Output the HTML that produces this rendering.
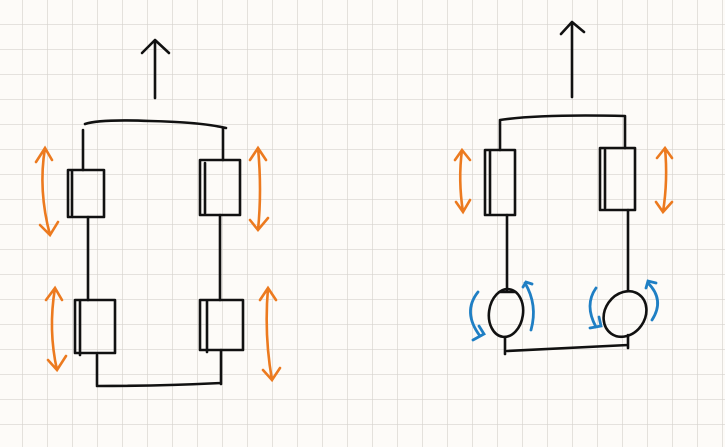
<!DOCTYPE html>
<html><head><style>
html,body{margin:0;padding:0;width:725px;height:447px;overflow:hidden;background:#fdfbf8}
</style></head><body>
<svg width="725" height="447" xmlns="http://www.w3.org/2000/svg">
<defs>
<pattern id="g" x="-2" y="0" width="25" height="25" patternUnits="userSpaceOnUse">
<path d="M25 0V25M0 25H25" stroke="#d6d3ce" stroke-width="1.3" fill="none"/>
</pattern>
</defs>
<rect width="725" height="447" fill="url(#g)"/>
<g stroke="#111" stroke-width="2.6" fill="none" stroke-linecap="round" stroke-linejoin="round">
<path d="M155 98V41M142 53L155 40L169 53"/>
<path d="M85 124Q100 119 150 121Q200 122 226 128"/>
<path d="M83 130V170M223 128V160"/>
<path d="M68 170H104V217H68ZM72 170V215"/>
<path d="M88 217V300M220 215V300"/>
<path d="M200 160H240V215H200ZM205 163V213"/>
<path d="M75 300H115V353H75ZM80 300V355M97 355V385M97 386Q160 386 221 383M221 350V384"/>
<path d="M200 300H243V350H200ZM207 300V352"/>
<path d="M572 97V22M561 34L572 22L584 32"/>
<path d="M500 120Q540 114 625 116M500 120V150M625 116V148"/>
<path d="M485 150H515V215H485ZM490 150V213"/>
<path d="M507 215V290M628 210V290"/>
<path d="M600 148H635V210H600ZM605 150V208"/>
<ellipse cx="506" cy="313" rx="17" ry="24" transform="rotate(8 506 313)"/>
<ellipse cx="625" cy="314" rx="20" ry="24" transform="rotate(35 625 314)"/>
<path d="M500 292H515M505 337V354M507 351Q570 348 628 345M628 335V348"/>
</g>
<g stroke="#ec7a1f" stroke-width="2.6" fill="none" stroke-linecap="round">
<path d="M45 148Q38 190 50 235M36 162L45 148L52 160M40 225L50 235L58 222"/>
<path d="M258 148Q262 190 258 230M250 160L258 148L266 160M250 220L258 230L268 218"/>
<path d="M55 288Q48 330 57 370M46 300L55 288L62 300M48 360L57 370L66 356"/>
<path d="M268 288Q264 335 272 380M260 300L268 288L276 300M263 370L272 380L280 368"/>
<path d="M462 150Q458 180 463 212M455 160L462 150L470 160M456 202L463 212L470 200"/>
<path d="M665 148Q668 180 663 212M657 158L665 148L672 158M656 202L663 212L672 202"/>
</g>
<g stroke="#1f7fc4" stroke-width="2.8" fill="none" stroke-linecap="round">
<path d="M478 292Q462 312 480 336M473 340L484 334L479 326"/>
<path d="M525 283Q538 305 531 330M523 287L526 282L532 284"/>
<path d="M596 288Q584 305 596 327M590 328L601 326L599 317"/>
<path d="M648 283Q665 300 652 320M646 288L648 281L656 283"/>
</g>
</svg>
</body></html>
